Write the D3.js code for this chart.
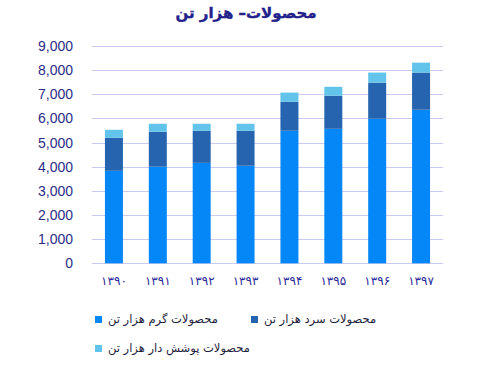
<!DOCTYPE html>
<html>
<head>
<meta charset="utf-8">
<script src="https://cdn.jsdelivr.net/npm/d3@7"></script>
<style>
  body { margin: 0; background: #fff; }
  svg { display: block; }
</style>
</head>
<body>
<svg id="chart"></svg>
<script>
// years (Persian digits) and series, thousand tonnes
const years = ["۱۳۹۰", "۱۳۹۱", "۱۳۹۲", "۱۳۹۳", "۱۳۹۴", "۱۳۹۵", "۱۳۹۶", "۱۳۹۷"];
const hot = [3830, 4000, 4160, 4040, 5490, 5570, 5990, 6360];
const cold = [1370, 1450, 1330, 1450, 1200, 1370, 1490, 1540];
const coated = [330, 330, 290, 290, 380, 370, 420, 410];
const seriesNames = ["محصولات گرم هزار تن", "محصولات سرد هزار تن", "محصولات پوشش دار هزار تن"];
const yTicks = [0, 1000, 2000, 3000, 4000, 5000, 6000, 7000, 8000, 9000];

const width = 483, height = 373;
const colors = ["#0587F7", "#2764AF", "#62C4EA"];

const svg = d3.select("#chart").attr("width", width).attr("height", height);

const rows = years.map((y, i) => ({year: y, hot: hot[i], cold: cold[i], coated: coated[i]}));
const stack = d3.stack().keys(["hot", "cold", "coated"]);
const layers = stack(rows);

const x = d3.scaleBand().domain(years).range([92, 443]).paddingInner(0.59).paddingOuter(0.295);
const y = d3.scaleLinear().domain([0, 9000]).range([263.3, 46]);

// title
svg.append("text")
  .attr("x", 246).attr("y", 18)
  .attr("text-anchor", "middle")
  .style("font", "bold 15px 'DejaVu Sans'")
  .style("fill", "#22228A")
  .style("stroke", "#22228A").style("stroke-width", 0.4)
  .text("محصولات– هزار تن");

// grid
svg.append("g").selectAll("line")
  .data(yTicks)
  .join("line")
    .attr("x1", 92).attr("x2", 443)
    .attr("y1", d => Math.round(y(d)) + 0.5).attr("y2", d => Math.round(y(d)) + 0.5)
    .attr("stroke", "#CBCBF0").attr("stroke-width", 1);

// y labels
svg.append("g").selectAll("text")
  .data(yTicks)
  .join("text")
    .attr("x", 73).attr("y", d => y(d) + 5)
    .attr("text-anchor", "end")
    .style("font", "14px 'Liberation Sans'")
    .style("fill", "#2B2B86")
    .text(d => d3.format(",")(d));

// bars
svg.append("g").selectAll("g")
  .data(layers)
  .join("g")
    .attr("fill", (d, i) => colors[i])
  .selectAll("rect")
  .data(d => d)
  .join("rect")
    .attr("x", d => x(d.data.year))
    .attr("width", x.bandwidth())
    .attr("y", d => y(d[1]))
    .attr("height", d => y(d[0]) - y(d[1]));

// x labels
svg.append("g").selectAll("text")
  .data(years)
  .join("text")
    .attr("x", d => x(d) + x.bandwidth() / 2)
    .attr("y", 285)
    .attr("text-anchor", "middle")
    .style("font", "12px 'DejaVu Sans'")
    .style("letter-spacing", "1px")
    .style("fill", "#2B2B9A")
    .text(d => d);

// legend
const legendPos = [[95, 323], [251, 323], [95, 352]];
const legend = svg.append("g").selectAll("g")
  .data(seriesNames)
  .join("g")
    .attr("transform", (d, i) => `translate(${legendPos[i][0]},${legendPos[i][1]})`);
legend.append("rect")
  .attr("x", 0).attr("y", -7).attr("width", 7).attr("height", 7)
  .attr("fill", (d, i) => colors[i]);
legend.append("text")
  .attr("x", 13).attr("y", 0)
  .style("font", "11.5px 'DejaVu Sans'")
  .style("fill", "#1E1E3C")
  .text(d => d);
</script>
</body>
</html>
